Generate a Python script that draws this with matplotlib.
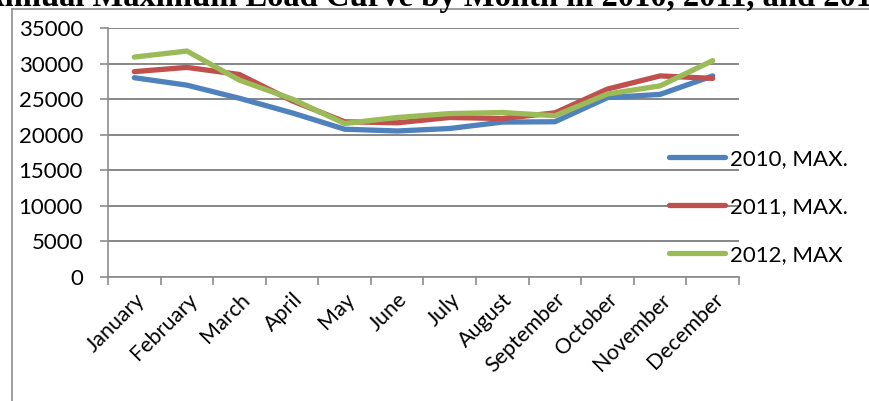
import numpy as np
import matplotlib.pyplot as plt
from matplotlib.lines import Line2D

# DATA
months = ['January', 'February', 'March', 'April', 'May', 'June', 'July',
          'August', 'September', 'October', 'November', 'December']
max_2010 = [28050, 27000, 25150, 23100, 20800, 20550, 20900, 21800, 21850, 25250, 25700, 28300]
max_2011 = [28900, 29500, 28500, 24800, 21850, 21700, 22450, 22300, 23100, 26450, 28300, 27950]
max_2012 = [30950, 31800, 27700, 25050, 21600, 22450, 23000, 23150, 22700, 25750, 26900, 30450]
series_names = ['2010, MAX.', '2011, MAX.', '2012, MAX']
colors = ['#4F81BD', '#C0504D', '#9BBB59']

plt.rcParams['font.family'] = ['Lato', 'DejaVu Sans']

fig = plt.figure(figsize=(8.7, 4.01), dpi=100)
W, H = 870, 401

# chart frame (top and left edges only, the rest falls outside the image)
grey = '#8C8C8C'
fig.add_artist(Line2D([12/W, 1], [1 - 9/H, 1 - 9/H], color=grey, lw=1.2, transform=fig.transFigure))
fig.add_artist(Line2D([12/W, 12/W], [0, 1 - 9/H], color=grey, lw=1.2, transform=fig.transFigure))

# title, partly cut off at the top
fig.text(0.5, 1 - 6/H, 'Annual Maximum Load Curve by Month in 2010, 2011, and 2012',
         ha='center', va='baseline', fontsize=23.5, fontweight='bold',
         family='Liberation Serif')

ax = fig.add_axes([108/W, 1 - 277/H, (739 - 108)/W, (277 - 28.3)/H])
x = np.arange(len(months))
for vals, c, name in zip([max_2010, max_2011, max_2012], colors, series_names):
    ax.plot(x, vals, color=c, lw=3.8, solid_capstyle='round', solid_joinstyle='round', label=name)

ax.set_xlim(-0.5, 11.5)
ax.set_ylim(0, 35000)
ax.set_yticks(np.arange(0, 35001, 5000))
ax.yaxis.grid(True, color='#868686', lw=1.4)
ax.set_axisbelow(True)
ax.set_xticks(x)
ax.set_xticklabels(months, rotation=45, ha='right', rotation_mode='anchor', fontsize=15.5)
ax.set_xticks(np.arange(-0.5, 12, 1), minor=True)
ax.tick_params(axis='x', which='major', length=0, pad=9)
ax.tick_params(axis='x', which='minor', length=6, width=1.2, color=grey, direction='out')
ax.tick_params(axis='y', length=6, width=1.2, color=grey, pad=12, labelsize=16)
for s in ['top', 'right']:
    ax.spines[s].set_visible(False)
for s in ['left', 'bottom']:
    ax.spines[s].set_color(grey)
    ax.spines[s].set_linewidth(1.2)

ax.legend(loc='center left', bbox_to_anchor=(669/W, 1 - 207/H), bbox_transform=fig.transFigure,
          frameon=False, fontsize=16, handlelength=2.5, handletextpad=0.25, labelspacing=1.25,
          borderaxespad=0, borderpad=0)

fig.savefig('out.png', dpi=100)
